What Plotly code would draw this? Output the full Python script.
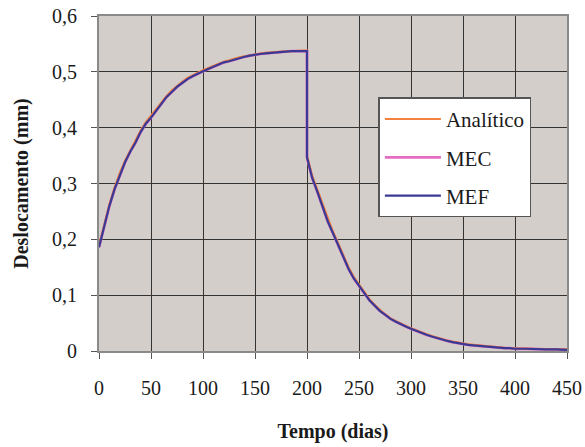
import plotly.graph_objects as go

tempo = [0, 5, 10, 15, 20, 25, 30, 35, 40, 45, 50, 55, 60, 65, 70, 75, 80, 85, 90, 95,
         100, 105, 110, 115, 120, 125, 130, 135, 140, 145, 150, 155, 160, 165, 170, 175,
         180, 185, 190, 195, 200,
         200, 205, 210, 215, 220, 225, 230, 235, 240, 245, 250, 255, 260, 265, 270, 275,
         280, 285, 290, 295, 300, 305, 310, 315, 320, 325, 330, 335, 340, 345, 350, 355,
         360, 365, 370, 375, 380, 385, 390, 395, 400, 410, 420, 430, 440, 450]

analitico = [0.189, 0.227, 0.263, 0.293, 0.319, 0.341, 0.360, 0.377, 0.395, 0.410, 0.422,
             0.434, 0.446, 0.457, 0.467, 0.475, 0.482, 0.489, 0.494, 0.499, 0.503, 0.507,
             0.511, 0.515, 0.518, 0.521, 0.524, 0.526, 0.528, 0.530, 0.532, 0.533, 0.534,
             0.535, 0.536, 0.536, 0.537, 0.537, 0.538, 0.538, 0.538,
             0.350, 0.314, 0.289, 0.262, 0.236, 0.214, 0.193, 0.170, 0.150, 0.133, 0.120,
             0.106, 0.093, 0.083, 0.074, 0.066, 0.059, 0.054, 0.049, 0.045, 0.041, 0.037,
             0.033, 0.030, 0.027, 0.024, 0.021, 0.019, 0.017, 0.015, 0.013, 0.012, 0.011,
             0.010, 0.009, 0.008, 0.007, 0.007, 0.006, 0.005, 0.005, 0.004, 0.004, 0.003,
             0.003, 0.003]

mec = [0.186, 0.224, 0.260, 0.290, 0.316, 0.338, 0.357, 0.373, 0.392, 0.407, 0.418,
       0.430, 0.443, 0.455, 0.464, 0.473, 0.480, 0.487, 0.492, 0.497, 0.501, 0.505,
       0.509, 0.513, 0.517, 0.519, 0.522, 0.524, 0.527, 0.529, 0.531, 0.532, 0.533,
       0.534, 0.535, 0.535, 0.536, 0.537, 0.537, 0.537, 0.537,
       0.347, 0.310, 0.285, 0.258, 0.232, 0.211, 0.190, 0.167, 0.147, 0.130, 0.118,
       0.104, 0.091, 0.081, 0.072, 0.065, 0.058, 0.053, 0.048, 0.044, 0.040, 0.036,
       0.032, 0.029, 0.026, 0.023, 0.020, 0.018, 0.016, 0.014, 0.012, 0.011, 0.010,
       0.009, 0.008, 0.007, 0.007, 0.006, 0.005, 0.005, 0.004, 0.004, 0.003, 0.003,
       0.003, 0.002]

mef = [0.186, 0.224, 0.260, 0.290, 0.316, 0.338, 0.357, 0.373, 0.392, 0.407, 0.418,
       0.430, 0.443, 0.455, 0.464, 0.473, 0.480, 0.487, 0.492, 0.497, 0.501, 0.505,
       0.509, 0.513, 0.517, 0.519, 0.522, 0.524, 0.527, 0.529, 0.531, 0.532, 0.533,
       0.534, 0.535, 0.535, 0.536, 0.537, 0.537, 0.537, 0.537,
       0.347, 0.310, 0.285, 0.258, 0.232, 0.211, 0.190, 0.167, 0.147, 0.130, 0.118,
       0.104, 0.091, 0.081, 0.072, 0.065, 0.058, 0.053, 0.048, 0.044, 0.040, 0.036,
       0.032, 0.029, 0.026, 0.023, 0.020, 0.018, 0.016, 0.014, 0.012, 0.011, 0.010,
       0.009, 0.008, 0.007, 0.007, 0.006, 0.005, 0.005, 0.004, 0.004, 0.003, 0.003,
       0.003, 0.002]

x_ticks = [0, 50, 100, 150, 200, 250, 300, 350, 400, 450]
x_labels = ["0", "50", "100", "150", "200", "250", "300", "350", "400", "450"]
y_ticks = [0, 0.1, 0.2, 0.3, 0.4, 0.5, 0.6]
y_labels = ["0", "0,1", "0,2", "0,3", "0,4", "0,5", "0,6"]

FONT = "Liberation Serif"

fig = go.Figure()
fig.add_trace(go.Scatter(x=tempo, y=mec, name="MEC", mode="lines",
                         line=dict(color="#E46CC4", width=2.8), legendrank=2,
                         legendgroup="b"))
fig.add_trace(go.Scatter(x=tempo, y=analitico, name="Analítico", mode="lines",
                         line=dict(color="#F28040", width=2), legendrank=1,
                         legendgroup="a"))
fig.add_trace(go.Scatter(x=tempo, y=mef, name="MEF", mode="lines",
                         line=dict(color="#3A3A96", width=2.2), legendrank=3,
                         legendgroup="c"))

fig.update_layout(
    width=585, height=447,
    margin=dict(l=99, r=18, t=16, b=96, autoexpand=False),
    paper_bgcolor="white",
    plot_bgcolor="#D4CECB",
    font=dict(family=FONT, size=20, color="#1a1a1a"),
    showlegend=True,
    legend=dict(x=0.597, y=0.757, xanchor="left", yanchor="top",
                bgcolor="white", bordercolor="#555555", borderwidth=1.5,
                font=dict(family=FONT, size=21, color="#1a1a1a"),
                itemwidth=56, tracegroupgap=8, traceorder="grouped"),
)
fig.update_xaxes(range=[0, 450], tickvals=x_ticks, ticktext=x_labels,
                 showgrid=True, gridcolor="#333333", gridwidth=1,
                 showline=True, linecolor="#8a8a8a", linewidth=2, mirror=True,
                 ticks="outside", ticklen=6, tickcolor="#555555", automargin=False,
                 ticklabelstandoff=12, zeroline=False,
                 title=dict(text="<b>Tempo (dias)</b>", standoff=26,
                            font=dict(family=FONT, size=20)))
fig.update_yaxes(range=[0, 0.6], tickvals=y_ticks, ticktext=y_labels,
                 showgrid=True, gridcolor="#333333", gridwidth=1,
                 showline=True, linecolor="#8a8a8a", linewidth=2, mirror=True,
                 ticks="outside", ticklen=6, tickcolor="#555555", automargin=False,
                 ticklabelstandoff=10, zeroline=False,
                 title=dict(text="<b>Deslocamento (mm)</b>", standoff=18,
                            font=dict(family=FONT, size=20)))

fig.write_html("out.html", config={"displayModeBar": False},
               post_script="document.body.style.margin='0';document.body.style.overflow='hidden';")
